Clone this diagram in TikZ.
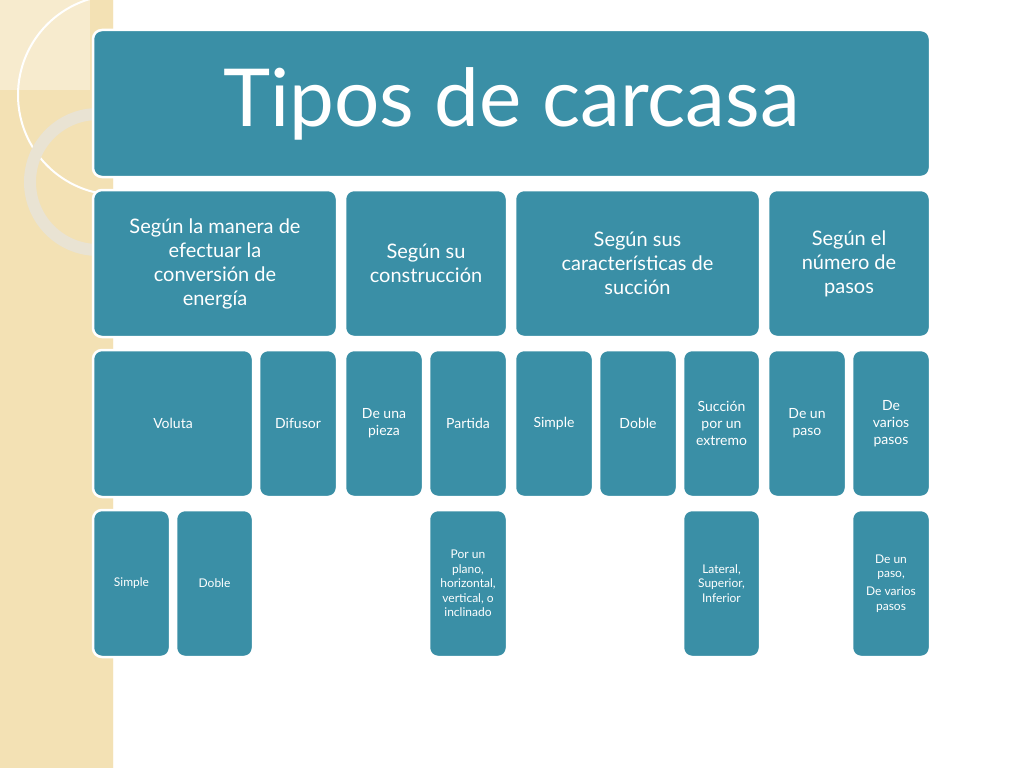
\documentclass[tikz,border=0pt]{standalone}
\usepackage{fontspec}
\setmainfont{Lato}
\definecolor{teal}{HTML}{3A8FA6}
\definecolor{beige}{HTML}{F3E1B4}
\definecolor{ring}{HTML}{E9E3D3}
\tikzset{bx/.style={draw=white,line width=2.5pt,fill=teal,rounded corners=9pt,text=white,align=center,inner sep=3pt}}
\newcommand\bx[7]{\pgfmathsetmacro\bw{#4-#2}\node[bx,minimum width=\bw pt,minimum height={(#5-#3)*1pt},font=\fontsize{#6pt}{\dimexpr #6pt*6/5\relax}\selectfont] (#1) at ({(#2+#4)/2},{(#3+#5)/2}) {#7};}
\begin{document}
\begin{tikzpicture}[x=1pt,y=-1pt]
\useasboundingbox (0,0) rectangle (1024,768);
\fill[white] (0,0) rectangle (1024,768);
\fill[beige] (0,0) rectangle (113,768);
\fill[white,opacity=0.35] (0,0) rectangle (90,90);
\begin{scope}
\clip (0,0) rectangle (113,768);
\draw[white,line width=2pt] (118,95) circle (100);
\draw[ring,line width=12pt] (98,182) circle (68);
\end{scope}
\draw[white!80!beige,line width=1pt] (113,0) -- (113,768);
\bx{title}{93}{30}{930}{177}{80}{Tipos de carcasa}
\bx{a}{93}{190}{337}{337}{20}{Según la manera de\\efectuar la\\conversión de\\energía}
\bx{b}{345}{190}{507}{337}{20}{Según su\\construcción}
\bx{c}{515}{190}{760}{337}{20}{Según sus\\características de\\succión}
\bx{d}{768}{190}{930}{337}{20}{Según el\\número de\\pasos}
\bx{a1}{93}{350}{253}{497}{14}{Voluta}
\bx{a2}{259}{350}{337}{497}{14}{Difusor}
\bx{b1}{345}{350}{423}{497}{14}{De una\\pieza}
\bx{b2}{429}{350}{507}{497}{14}{Partida}
\bx{c1}{515}{350}{593}{497}{14}{Simple}
\bx{c2}{599}{350}{677}{497}{14}{Doble}
\bx{c3}{683}{350}{760}{497}{14}{Succión\\por un\\extremo}
\bx{d1}{768}{350}{846}{497}{14}{De un\\paso}
\bx{d2}{852}{350}{930}{497}{14}{De\\varios\\pasos}
\bx{a11}{93}{510}{170}{657}{12}{Simple}
\bx{a12}{176}{510}{253}{657}{12}{Doble}
\bx{b21}{429}{510}{507}{657}{12}{Por un\\plano,\\horizontal,\\vertical, o\\inclinado}
\bx{c31}{683}{510}{760}{657}{12}{Lateral,\\Superior,\\Inferior}
\bx{d21}{852}{510}{930}{657}{12}{De un\\paso,\\[4pt]De varios\\pasos}
\end{tikzpicture}
\end{document}
